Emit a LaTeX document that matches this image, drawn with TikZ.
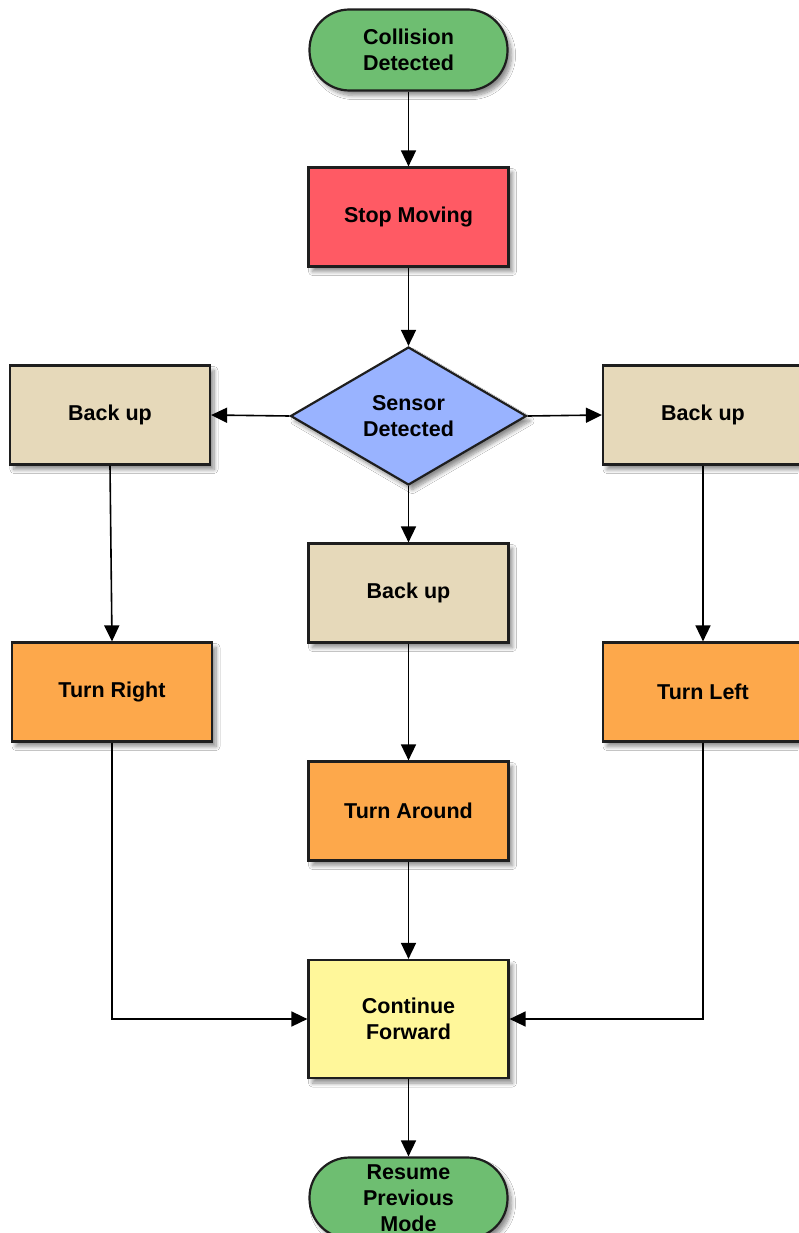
\documentclass[tikz,border=0pt]{standalone}
\usepackage{fontspec}
\setmainfont{Liberation Sans}
\usetikzlibrary{shapes.geometric,arrows.meta,shadows.blur}

\definecolor{termgreen}{HTML}{6EBE71}
\definecolor{stopred}{HTML}{FF5A64}
\definecolor{decblue}{HTML}{99B3FF}
\definecolor{backtan}{HTML}{E6D9BA}
\definecolor{turnorange}{HTML}{FDA84B}
\definecolor{goyellow}{HTML}{FFF79A}
\definecolor{edge}{HTML}{1E1E1E}

\tikzset{
  lbl/.style={text=black, align=center,
    font=\bfseries\fontsize{21.5}{26}\selectfont, inner sep=0pt},
  base/.style={lbl, draw=edge, line width=2.2pt,
    blur shadow={shadow xshift=4pt, shadow yshift=-5pt, shadow blur steps=8,
      shadow blur radius=4pt, shadow opacity=45}},
  terminal/.style={base, fill=termgreen, rectangle, rounded corners=40pt,
    minimum width=198pt, minimum height=81pt},
  procbox/.style={base, rectangle, minimum width=200pt, minimum height=99pt},
  decision/.style={base, diamond, fill=decblue, minimum width=236pt,
    minimum height=138pt},
  flow/.style={line width=1.6pt, draw=black,
    -{Triangle[length=16pt,width=15pt]}},
}

\begin{document}
\begin{tikzpicture}[x=1pt,y=-1pt]
  \useasboundingbox (0,0) rectangle (798,1233);
  \fill[white] (0,0) rectangle (798,1233);

  % nodes
  \node[terminal] (start) at (408.5,50) {Collision\\Detected};
  \node[procbox, fill=stopred] (stop) at (408.5,217) {Stop Moving};
  \node[decision] (sensor) at (408.5,416) {Sensor\\Detected};
  \node[procbox, fill=backtan] (backL) at (110,415) {Back up};
  \node[procbox, fill=backtan] (backR) at (703,415) {Back up};
  \node[procbox, fill=backtan] (backM) at (408.5,593) {Back up};
  \node[procbox, fill=turnorange] (turnR) at (112,692) {Turn Right};
  \node[procbox, fill=turnorange] (turnL) at (703,692) {Turn Left};
  \node[procbox, fill=turnorange] (turnA) at (408.5,811) {Turn Around};
  \node[procbox, fill=goyellow, minimum height=118pt] (cont) at (408.5,1019) {Continue\\Forward};
  \node[terminal] (resume) at (408.5,1198) {};
  \node[lbl] (resumetext) at (resume.center) {Resume\\Previous\\Mode};

  % connectors
  \draw[flow] (start) -- (stop);
  \draw[flow] (stop) -- (sensor);
  \draw[flow] (sensor.west) -- (backL.east);
  \draw[flow] (sensor.east) -- (backR.west);
  \draw[flow] (sensor.south) -- (backM.north);
  \draw[flow] (backL.south) -- (turnR.north);
  \draw[flow] (backR.south) -- (turnL.north);
  \draw[flow] (backM) -- (turnA);
  \draw[flow] (turnA) -- (cont);
  \draw[flow] (turnR.south) |- (cont.west);
  \draw[flow] (turnL.south) |- (cont.east);
  \draw[flow] (cont) -- (resume);
\end{tikzpicture}
\end{document}
